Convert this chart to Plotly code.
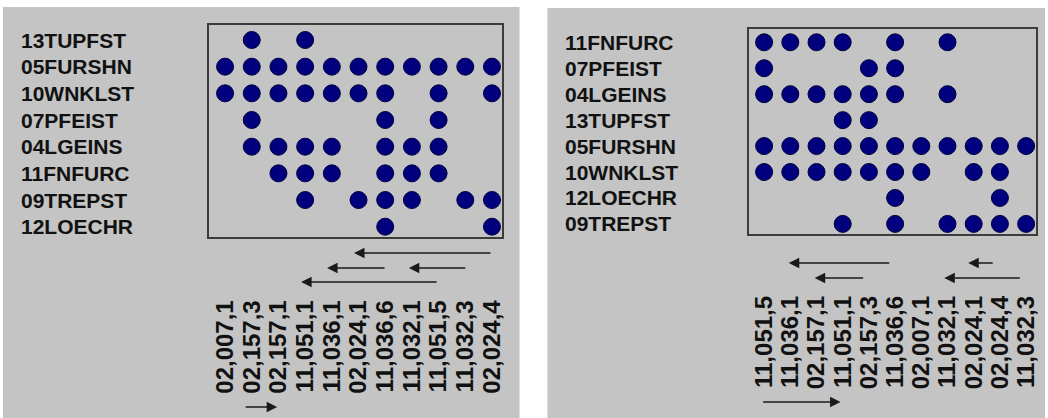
import plotly.graph_objects as go

# ---- data ----
species_cols = {
    "13TUPFST": ["02,157,3", "11,051,1"],
    "05FURSHN": ["02,007,1", "02,157,3", "02,157,1", "11,051,1", "11,036,1", "02,024,1",
                 "11,036,6", "11,032,1", "11,051,5", "11,032,3", "02,024,4"],
    "10WNKLST": ["02,007,1", "02,157,3", "02,157,1", "11,051,1", "11,036,1", "02,024,1",
                 "11,036,6", "11,051,5", "02,024,4"],
    "07PFEIST": ["02,157,3", "11,036,6", "11,051,5"],
    "04LGEINS": ["02,157,3", "02,157,1", "11,051,1", "11,036,1", "11,036,6", "11,032,1", "11,051,5"],
    "11FNFURC": ["02,157,1", "11,051,1", "11,036,1", "11,036,6", "11,032,1", "11,051,5"],
    "09TREPST": ["11,051,1", "02,024,1", "11,036,6", "11,032,1", "11,032,3", "02,024,4"],
    "12LOECHR": ["11,036,6", "02,024,4"],
}

left_cols = ["02,007,1", "02,157,3", "02,157,1", "11,051,1", "11,036,1", "02,024,1",
             "11,036,6", "11,032,1", "11,051,5", "11,032,3", "02,024,4"]
left_rows = ["13TUPFST", "05FURSHN", "10WNKLST", "07PFEIST", "04LGEINS", "11FNFURC",
             "09TREPST", "12LOECHR"]

right_cols = ["11,051,5", "11,036,1", "02,157,1", "11,051,1", "02,157,3", "11,036,6",
              "02,007,1", "11,032,1", "02,024,1", "02,024,4", "11,032,3"]
right_rows = ["11FNFURC", "07PFEIST", "04LGEINS", "13TUPFST", "05FURSHN", "10WNKLST",
              "12LOECHR", "09TREPST"]

# arrows (pixel positions: head_x, tail_x, y)
left_arrows = [(355, 493, 253), (328, 387, 268), (410, 468, 268), (302, 439, 282), (278, 245, 407)]
right_arrows = [(791, 893, 263), (971, 997, 263), (817, 867, 278), (947, 1024, 278), (843, 764, 402)]

W, H = 1048, 418
GRAY = "#c4c4c4"
FONT = "Liberation Sans, Arial, sans-serif"

def px(x):
    return x / W

def py(y):
    return 1 - y / H

fig = go.Figure()

for idx, (cols, rows) in enumerate([(left_cols, left_rows), (right_cols, right_rows)]):
    xs, ys = [], []
    for r in rows:
        for c in cols:
            if c in species_cols[r]:
                xs.append(c)
                ys.append(r)
    sfx = "" if idx == 0 else "2"
    fig.add_trace(go.Scatter(
        x=xs, y=ys, mode="markers", xaxis="x" + sfx, yaxis="y" + sfx,
        marker=dict(symbol="circle", size=17, color="#00007f",
                    line=dict(color="#00003a", width=1)),
        showlegend=False, hoverinfo="x+y"))

axis_common = dict(showgrid=False, zeroline=False, showline=True, mirror=True,
                   linecolor="#3c3c3c", linewidth=2, type="category")
tickfont = dict(family=FONT, size=24, color="#111111", weight="bold")

fig.update_layout(
    width=W, height=H, margin=dict(l=0, r=0, t=0, b=0),
    paper_bgcolor="white", plot_bgcolor=GRAY,
    xaxis=dict(domain=[px(209.3), px(503.3)], anchor="y", range=[-0.613, 10.37],
               categoryorder="array", categoryarray=left_cols, tickangle=-90,
               tickmode="array", tickvals=left_cols, ticktext=left_cols,
               ticks="", ticklabelstandoff=52, tickfont=tickfont, **axis_common),
    yaxis=dict(domain=[py(236.7), py(25)], anchor="x", range=[7.375, -0.5625],
               categoryorder="array", categoryarray=left_rows, showticklabels=False,
               ticks="", **axis_common),
    xaxis2=dict(domain=[px(750.7), px(1039.3)], anchor="y2", range=[-0.594, 10.39],
                categoryorder="array", categoryarray=right_cols, tickangle=-90,
                tickmode="array", tickvals=right_cols, ticktext=right_cols,
                ticks="", ticklabelstandoff=50, tickfont=tickfont, **axis_common),
    yaxis2=dict(domain=[py(234.3), py(29)], anchor="x2", range=[7.40, -0.512],
                categoryorder="array", categoryarray=right_rows, showticklabels=False,
                ticks="", **axis_common),
)

# gray panels
for x0, x1, y0 in [(3, 521, 7), (549, 1048, 8)]:
    fig.add_shape(type="rect", xref="paper", yref="paper", x0=px(x0), x1=px(x1),
                  y0=py(H), y1=py(y0), fillcolor=GRAY, line=dict(width=0), layer="below")

# row labels
for rows, yref, lx in [(left_rows, "y", 19), (right_rows, "y2", 565)]:
    for r in rows:
        fig.add_annotation(x=px(lx), xref="paper", y=r, yref=yref, text=r,
                           showarrow=False, xanchor="left", yanchor="middle",
                           font=dict(family=FONT, size=21, color="#111111", weight="bold"))

# arrows
for hx, tx, yy in left_arrows + right_arrows:
    fig.add_annotation(x=px(hx), y=py(yy), xref="paper", yref="paper", text="",
                       showarrow=True, ax=tx - hx, ay=0, axref="pixel", ayref="pixel",
                       arrowhead=2, arrowsize=1.4, arrowwidth=1.5, arrowcolor="#1a1a1a",
                       standoff=0)

fig.write_html("out.html", config={"displayModeBar": False},
               post_script="document.body.style.margin='0';")
